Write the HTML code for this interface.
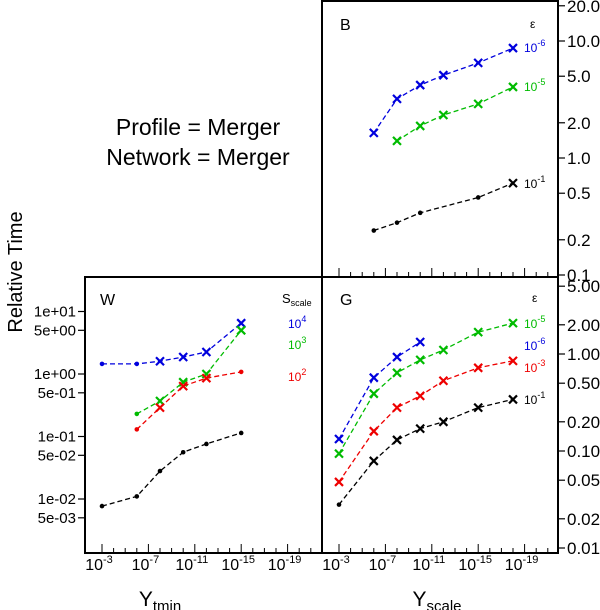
<!DOCTYPE html>
<html><head><meta charset="utf-8">
<style>
html,body{margin:0;padding:0;background:#fff;}
svg{display:block;font-family:"Liberation Sans",sans-serif;}
</style></head>
<body>
<svg id="chart" width="600" height="610" viewBox="0 0 600 610" xmlns="http://www.w3.org/2000/svg">
<text x="198" y="135" font-size="23" text-anchor="middle">Profile = Merger</text>
<text x="198" y="165" font-size="23" text-anchor="middle">Network = Merger</text>
<text transform="translate(22,272) rotate(-90)" font-size="20" text-anchor="middle">Relative Time</text>
<text x="160" y="606" font-size="21" text-anchor="middle">Y<tspan font-size="15" dy="5">tmin</tspan></text>
<text x="437" y="606" font-size="21" text-anchor="middle">Y<tspan font-size="15" dy="5">scale</tspan></text>
</svg>
<script>
// ---------- data ----------
// x values are exponents of 10
const bX = [-6,-8,-10,-12,-15,-18];
const bBlue = [1.64,3.2,4.2,5.1,6.5,8.7];
const bGreenX = [-8,-10,-12,-15,-18];
const bGreen = [1.40,1.88,2.33,2.9,4.05];
const bBlackX = [-6,-8,-10,-15,-18];
const bBlack = [0.24,0.28,0.34,0.46,0.61];
const bBlackMk = ['o','o','o','o','x'];

const gBlueX = [-3,-6,-8,-10];
const gBlue = [0.133,0.57,0.93,1.33];
const gX = [-3,-6,-8,-10,-12,-15,-18];
const gGreen = [0.094,0.39,0.64,0.87,1.1,1.68,2.08];
const gRed = [0.048,0.16,0.28,0.37,0.53,0.72,0.85];
const gBlack = [0.028,0.079,0.13,0.17,0.20,0.28,0.34];
const gBlackMk = ['o','x','x','x','x','x','x'];

const wBlueX = [-3,-6,-8,-10,-12,-15];
const wBlue = [1.45,1.45,1.6,1.87,2.25,6.5];
const wBlueMk = ['o','o','x','x','x','x'];
const wGreenX = [-6,-8,-10,-12,-15];
const wGreen = [0.23,0.37,0.74,1.0,5.0];
const wGreenMk = ['o','x','x','x','x'];
const wRed = [0.13,0.29,0.64,0.86,1.08];
const wRedMk = ['o','x','x','x','o'];
const wBlackX = [-3,-6,-8,-10,-12,-15];
const wBlack = [0.0077,0.011,0.028,0.056,0.076,0.114];

const bTicks = [20,10,5,2,1,0.5,0.2,0.1];
const bTickLabels = ['20.0','10.0','5.0','2.0','1.0','0.5','0.2','0.1'];
const gTicks = [5,2,1,0.5,0.2,0.1,0.05,0.02,0.01];
const gTickLabels = ['5.00','2.00','1.00','0.50','0.20','0.10','0.05','0.02','0.01'];
const wTicks = [10,5,1,0.5,0.1,0.05,0.01,0.005];
const wTickLabels = ['1e+01','5e+00','1e+00','5e-01','1e-01','5e-02','1e-02','5e-03'];
const xMajor = [-3,-7,-11,-15,-19];

// ---------- helpers ----------
const NS='http://www.w3.org/2000/svg';
const svg=document.getElementById('chart');
function mk(tag,attrs,parent){const e=document.createElementNS(NS,tag);for(const k in attrs)e.setAttribute(k,attrs[k]);(parent||svg).appendChild(e);return e;}
const COL={blue:'#0000dd',green:'#00bb00',red:'#ee0000',black:'#000'};

// axis functions
const xR = e => 339 + (-3 - e) * 11.6;
const xL = e => 102 + (-3 - e) * 11.6;
const yB = v => 158 - Math.log10(v) * 117;
const yG = v => 354 - Math.log10(v) * 97;
const yW = v => 374 - Math.log10(v) * 62.5;

function series(name,xs,ys,fx,fy,color,mks){
  const g=mk('g',{});
  
  
  const pts=xs.map((x,i)=>fx(x).toFixed(1)+','+fy(ys[i]).toFixed(1)).join(' ');
  const pl=mk('polyline',{points:pts,fill:'none',stroke:color,'stroke-width':1.3,'stroke-dasharray':'5,3'},g);
  
  
  xs.forEach((x,i)=>{
    const cx=fx(x),cy=fy(ys[i]);const m=mks?mks[i]:'x';
    let el;
    if(m==='o'){el=mk('circle',{cx:cx,cy:cy,r:2.3,fill:color},g);}
    else{el=mk('path',{d:`M${cx-4},${cy-4}L${cx+4},${cy+4}M${cx-4},${cy+4}L${cx+4},${cy-4}`,stroke:color,'stroke-width':2.2,fill:'none'},g);}
    
    
  });
}
function label(x,y,base,sup,color,name,size){
  const t=mk('text',{x:x,y:y,'font-size':size||12,fill:color});
  
  
  t.textContent=base;
  if(sup!==null){const s=mk('tspan',{'font-size':9,dy:-6},t);s.textContent=sup;}
}

// ---------- frames ----------
function frame(x,y,w,h,name){const r=mk('rect',{x:x,y:y,width:w,height:h,fill:'none',stroke:'#000','stroke-width':2});}
frame(322,1,236,276,'panel-b-frame');
frame(322,277,236,276,'panel-g-frame');
frame(85,277,237,276,'panel-w-frame');

// right y axes
function yAxisRight(ticks,labels,fy,name){
  ticks.forEach((v,i)=>{
    const y=fy(v);
    mk('line',{x1:558,x2:565,y1:y,y2:y,stroke:'#000','stroke-width':1.2});
    const t=mk('text',{x:567,y:y+6,'font-size':17});
    
    
    t.textContent=labels[i];
  });
}
yAxisRight(bTicks,bTickLabels,yB,'panel-b-y');
yAxisRight(gTicks,gTickLabels,yG,'panel-g-y');
wTicks.forEach((v,i)=>{
  const y=yW(v);
  mk('line',{x1:78,x2:85,y1:y,y2:y,stroke:'#000','stroke-width':1.2});
  const t=mk('text',{x:76,y:y+5,'font-size':15,'text-anchor':'end'});
  
  
  t.textContent=wTickLabels[i];
});

// x axes (ticks inside, pointing up)
for(let e=-3;e>=-21;e--){
  const maj=xMajor.includes(e);
  const len=maj?9:5;
  mk('line',{x1:xR(e),x2:xR(e),y1:277,y2:277-len,stroke:'#000','stroke-width':1});
  mk('line',{x1:xR(e),x2:xR(e),y1:553,y2:553-len,stroke:'#000','stroke-width':1});
  mk('line',{x1:xL(e),x2:xL(e),y1:553,y2:553-len,stroke:'#000','stroke-width':1});
}
xMajor.forEach(e=>{
  [[xL,'panel-w-x-tick-label'],[xR,'panel-g-x-tick-label']].forEach(([f,n])=>{
    const t=mk('text',{x:f(e)-3,y:570,'font-size':16,'text-anchor':'middle'});
    
    
    t.textContent='10';
    const s=mk('tspan',{'font-size':11,dy:-7},t);s.textContent=String(e);
  });
});

// panel letters
label(340,30,'B',null,'#000','panel-b-letter',16);
label(340,305,'G',null,'#000','panel-g-letter',16);
label(100,305,'W',null,'#000','panel-w-letter',16);

// ---------- series ----------
series('panel-b-eps-1e-6',bX,bBlue,xR,yB,COL.blue);
series('panel-b-eps-1e-5',bGreenX,bGreen,xR,yB,COL.green);
series('panel-b-eps-1e-1',bBlackX,bBlack,xR,yB,COL.black,bBlackMk);
series('panel-g-eps-1e-6',gBlueX,gBlue,xR,yG,COL.blue);
series('panel-g-eps-1e-5',gX,gGreen,xR,yG,COL.green);
series('panel-g-eps-1e-3',gX,gRed,xR,yG,COL.red);
series('panel-g-eps-1e-1',gX,gBlack,xR,yG,COL.black,gBlackMk);
series('panel-w-s-1e4',wBlueX,wBlue,xL,yW,COL.blue,wBlueMk);
series('panel-w-s-1e3',wGreenX,wGreen,xL,yW,COL.green,wGreenMk);
series('panel-w-s-1e2',wGreenX,wRed,xL,yW,COL.red,wRedMk);
series('panel-w-black',wBlackX,wBlack,xL,yW,COL.black,wBlackX.map(()=>'o'));

// legends
label(530,28,'ε',null,'#000','panel-b-legend-title',12);
label(524,52,'10','-6',COL.blue,'panel-b-legend-1e-6');
label(524,91,'10','-5',COL.green,'panel-b-legend-1e-5');
label(524,188,'10','-1',COL.black,'panel-b-legend-1e-1');
label(532,302,'ε',null,'#000','panel-g-legend-title',12);
label(524,328,'10','-5',COL.green,'panel-g-legend-1e-5');
label(524,350,'10','-6',COL.blue,'panel-g-legend-1e-6');
label(524,372,'10','-3',COL.red,'panel-g-legend-1e-3');
label(524,404,'10','-1',COL.black,'panel-g-legend-1e-1');
(function(){const t=mk('text',{x:282,y:303,'font-size':13});t.textContent='S';const s=mk('tspan',{'font-size':9,dy:3},t);s.textContent='scale';})();
label(288,328,'10','4',COL.blue,'panel-w-legend-1e4');
label(288,349,'10','3',COL.green,'panel-w-legend-1e3');
label(288,381,'10','2',COL.red,'panel-w-legend-1e2');
</script>
</body></html>
